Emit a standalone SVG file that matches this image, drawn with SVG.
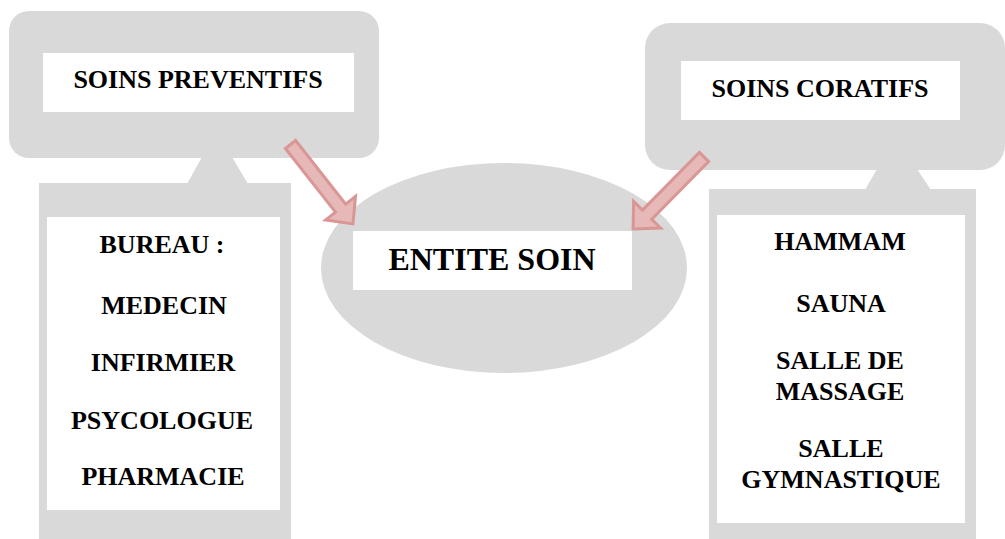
<svg xmlns="http://www.w3.org/2000/svg" width="1005" height="539" viewBox="0 0 1005 539">
  <style>
    .panel { fill: #d9d9d9; }
    .card { fill: #ffffff; }
    .lbl { font-family: "Liberation Serif", "Times New Roman", serif; font-weight: bold; font-size: 26px; fill: #000000; text-anchor: middle; }
    .big { font-size: 32px; }
    .arrow { fill: #e6b8b7; stroke: #d99694; stroke-width: 3; stroke-linejoin: miter; }
  </style>
  <defs>
    <!-- block arrow pointing along +x, tail at origin -->
    <polygon id="blockArrow" points="0,-6.5 81,-6.5 81,-19 101,0 81,19 81,6.5 0,6.5"/>
  </defs>
  <rect width="1005" height="539" fill="#ffffff"/>

  <!-- preventive care: header + list -->
  <g id="soins-preventifs">
    <rect class="panel" x="9" y="11" width="370" height="147" rx="20" ry="20"/>
    <polygon class="panel" points="202,157 232,157 248,184 187,184"/>
    <rect class="panel" x="39" y="183" width="252" height="356"/>
    <rect class="card" x="43" y="53" width="311" height="59"/>
    <text class="lbl" x="198" y="88">SOINS PREVENTIFS</text>
    <rect class="card" x="47" y="217" width="233" height="293"/>
    <text class="lbl" x="162" y="253">BUREAU :</text>
    <text class="lbl" x="164" y="314">MEDECIN</text>
    <text class="lbl" x="163" y="371">INFIRMIER</text>
    <text class="lbl" x="162" y="429">PSYCOLOGUE</text>
    <text class="lbl" x="163" y="485">PHARMACIE</text>
  </g>

  <!-- central entity -->
  <g id="entite-soin">
    <ellipse class="panel" cx="504" cy="268" rx="183" ry="105"/>
    <rect class="card" x="353" y="231" width="279" height="59"/>
    <text class="lbl big" x="492" y="270">ENTITE SOIN</text>
  </g>

  <!-- curative care: header + list -->
  <g id="soins-coratifs">
    <rect class="panel" x="645" y="23" width="360" height="147" rx="25" ry="25"/>
    <polygon class="panel" points="877,169 917,169 931,190 865,190"/>
    <rect class="panel" x="709" y="189" width="267" height="350"/>
    <rect class="card" x="681" y="61" width="279" height="59"/>
    <text class="lbl" x="820" y="97">SOINS CORATIFS</text>
    <rect class="card" x="717" y="215" width="248" height="308"/>
    <text class="lbl" x="840" y="250">HAMMAM</text>
    <text class="lbl" x="841" y="312">SAUNA</text>
    <text class="lbl" x="840" y="369">SALLE DE</text>
    <text class="lbl" x="840" y="400">MASSAGE</text>
    <text class="lbl" x="841" y="457">SALLE</text>
    <text class="lbl" x="841" y="488">GYMNASTIQUE</text>
  </g>

  <!-- connectors -->
  <g id="connectors">
    <use href="#blockArrow" class="arrow" transform="translate(290.5,144.5) rotate(51.8)"/>
    <use href="#blockArrow" class="arrow" transform="translate(704,157) rotate(134.6)"/>
  </g>
</svg>
